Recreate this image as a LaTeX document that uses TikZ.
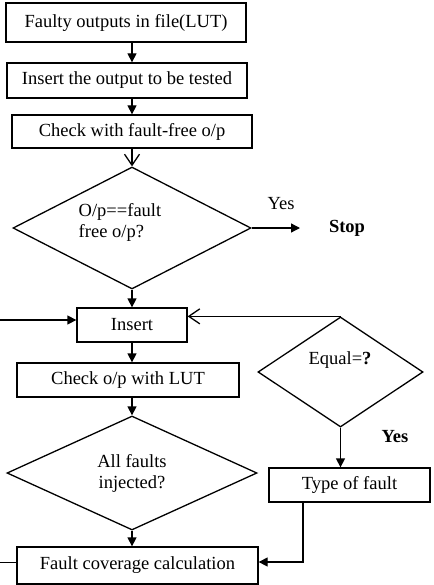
\documentclass[tikz,border=0pt]{standalone}
\usepackage{fontspec}
\setmainfont{Liberation Serif}
\usetikzlibrary{shapes.geometric,arrows.meta,positioning,calc}

\begin{document}
\begin{tikzpicture}[x=1pt,y=-1pt,
    font=\fontsize{18.5}{21}\selectfont,
    bold/.style={font=\fontsize{18.5}{21}\selectfont\bfseries},
    box/.style={draw, line width=1.3pt, inner sep=0pt},
    dia/.style={draw, diamond, line width=1.3pt, inner sep=0pt},
    arr/.style={line width=1.3pt, -{Triangle[length=9pt,width=9pt]}},
    oarr/.style={line width=1.3pt, -{Straight Barb[length=11pt,width=15pt]}}]
    \useasboundingbox (0,0) rectangle (433,585);

    % Main column
    \node[box, minimum width=240pt, minimum height=39pt] (src) at (126,22.5) {Faulty outputs in file(LUT)};
    \node[box, minimum width=240pt, minimum height=35pt] (put) at (127,80.5) {Insert the output to be tested};
    \node[box, minimum width=240pt, minimum height=33pt] (chkff) at (132,131.5) {Check with fault-free o/p};
    \node[dia, minimum width=238pt, minimum height=122pt] (same) at (132,228) {};
    \node[align=left] (sametxt) at (120,222) {O/p==fault\\free o/p?};
    \node (yes1) at (281,204) {Yes};
    \node[bold] (stop) at (347,228) {Stop};
    \node[box, minimum width=110pt, minimum height=34pt] (ins) at (132,325) {Insert};
    \node[box, minimum width=222pt, minimum height=34pt] (chklut) at (128,380) {Check o/p with LUT};
    \node[dia, minimum width=250pt, minimum height=114pt, align=center] (all) at (132,473) {All faults\\injected?};
    \node[box, minimum width=241pt, minimum height=37pt] (cov) at (137.5,565.5) {Fault coverage calculation};

    % Right branch
    \node[dia, minimum width=165pt, minimum height=110pt] (eq) at (340.5,372) {};
    \node (eqtxt) at (340,360) {Equal=\textbf{?}};
    \node[bold] (yes2) at (395,437) {Yes};
    \node[box, minimum width=161pt, minimum height=34pt] (type) at (349.5,485) {Type of fault};

    % Connectors
    \coordinate (spine) at (132,0);
    \coordinate (yesend) at (300,228);
    \draw[arr] (src.south -| spine) -- (put.north -| spine);
    \draw[arr] (put.south -| spine) -- (chkff.north -| spine);
    \draw[oarr] (chkff.south) -- (same.north);
    \draw[arr] (same.east) -- (yesend);
    \draw[arr] (same.south) -- (ins.north);
    \draw[arr] (ins.south) -- (chklut.north -| spine);
    \draw[arr] (chklut.south -| spine) -- (all.north);
    \draw[arr] (all.south) -- (cov.north -| spine);

    % Loop ends on the left edge
    \coordinate (loopin) at (0,320);
    \coordinate (loopout) at (0,562);
    \draw[arr] (loopin) -- (loopin -| ins.west);
    \draw[line width=1pt] (loopout -| cov.west) -- (loopout);

    \draw[oarr] (eq.north) -- (eq.north -| ins.east);
    \draw[arr] (eq.south) -- (type.north -| eq.south);
    \coordinate (bend) at (303,562);
    \draw[arr] (type.south -| bend) -- (bend) -- (bend -| cov.east);
\end{tikzpicture}
\end{document}
